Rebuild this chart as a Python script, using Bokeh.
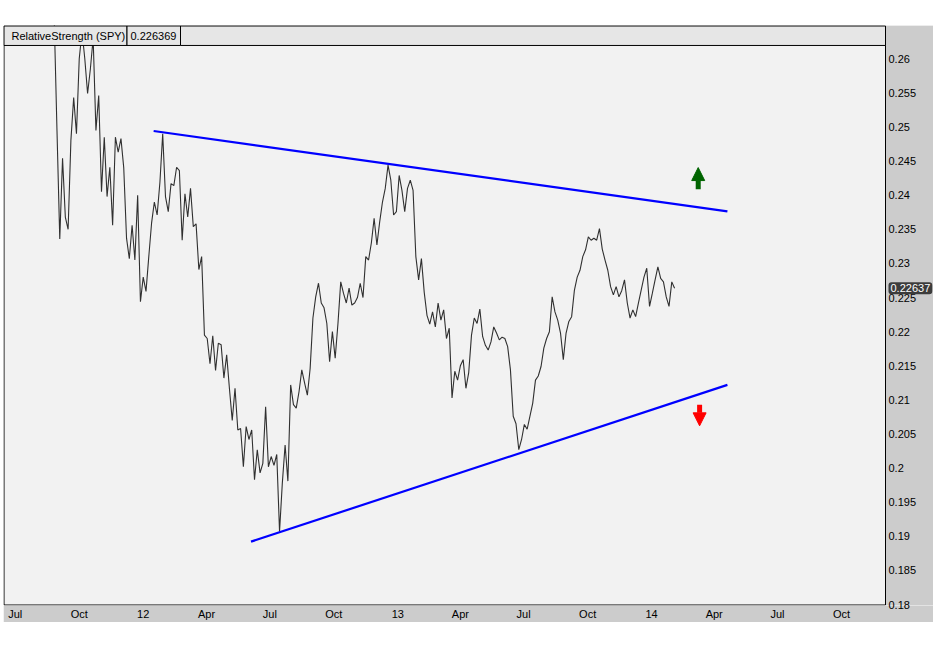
import pandas as pd
from bokeh.plotting import figure
from bokeh.models import (Range1d, FixedTicker, BoxAnnotation, Label, Arrow,
                          NormalHead, Spacer)
from bokeh.layouts import column, row
from bokeh.core.properties import value
from bokeh.embed import file_html
from bokeh.resources import INLINE

# ---------------- data ----------------
series_name = "RelativeStrength (SPY)"
first_date = "2011-08-26"          # one observation every 4 calendar days
rs_values = [
    0.2660, 0.2495, 0.2336, 0.2454, 0.2368, 0.2350, 0.2480, 0.2543, 0.2490, 0.2600,
    0.2640, 0.2600, 0.2549, 0.2585, 0.2630, 0.2495, 0.2546, 0.2405, 0.2485, 0.2398,
    0.2441, 0.2356, 0.2485, 0.2463, 0.2483, 0.2440, 0.2337, 0.2307, 0.2356, 0.2305,
    0.2400, 0.2244, 0.2280, 0.2259, 0.2310, 0.2359, 0.2390, 0.2371, 0.2419, 0.2490,
    0.2398, 0.2376, 0.2417, 0.2414, 0.2441, 0.2436, 0.2334, 0.2402, 0.2368, 0.2410,
    0.2354, 0.2358, 0.2291, 0.2310, 0.2195, 0.2190, 0.2153, 0.2194, 0.2143, 0.2183,
    0.2181, 0.2132, 0.2166, 0.2116, 0.2070, 0.2117, 0.2056, 0.2058, 0.2002, 0.2061,
    0.2042, 0.2056, 0.1983, 0.2027, 0.1993, 0.2007, 0.2090, 0.2002, 0.2017, 0.2004,
    0.2020, 0.1907, 0.1978, 0.2034, 0.1981, 0.2122, 0.2093, 0.2088, 0.2112, 0.2144,
    0.2125, 0.2107, 0.2146, 0.2220, 0.2251, 0.2271, 0.2242, 0.2235, 0.2212, 0.2156,
    0.2200, 0.2161, 0.2212, 0.2273, 0.2256, 0.2242, 0.2264, 0.2239, 0.2242, 0.2250,
    0.2271, 0.2250, 0.2310, 0.2305, 0.2330, 0.2366, 0.2327, 0.2361, 0.2390, 0.2410,
    0.2444, 0.2422, 0.2371, 0.2376, 0.2429, 0.2407, 0.2376, 0.2410, 0.2422, 0.2407,
    0.2310, 0.2276, 0.2307, 0.2258, 0.2224, 0.2211, 0.2229, 0.2207, 0.2242, 0.2217,
    0.2232, 0.2190, 0.2205, 0.2103, 0.2142, 0.2129, 0.2150, 0.2159, 0.2117, 0.2140,
    0.2195, 0.2220, 0.2212, 0.2233, 0.2193, 0.2180, 0.2173, 0.2185, 0.2207, 0.2198,
    0.2188, 0.2192, 0.2190, 0.2178, 0.2144, 0.2076, 0.2065, 0.2027, 0.2042, 0.2064,
    0.2057, 0.2076, 0.2095, 0.2129, 0.2135, 0.2149, 0.2176, 0.2190, 0.2200, 0.2251,
    0.2229, 0.2217, 0.2198, 0.2159, 0.2198, 0.2215, 0.2222, 0.2261, 0.2280, 0.2290,
    0.2310, 0.2320, 0.2339, 0.2334, 0.2337, 0.2334, 0.2351, 0.2321, 0.2305, 0.2290,
    0.2266, 0.2254, 0.2266, 0.2251, 0.2260, 0.2276, 0.2242, 0.2220, 0.2232, 0.2222,
    0.2242, 0.2261, 0.2280, 0.2293, 0.2237, 0.2256, 0.2276, 0.2295, 0.2278, 0.2273,
    0.2251, 0.2237, 0.2273, 0.226369,
]

upper_trend_dates = ["2012-01-16", "2014-04-20"]
upper_trend_values = [0.24941, 0.23763]
lower_trend_dates = ["2012-06-04", "2014-04-20"]
lower_trend_values = [0.18923, 0.21220]

up_arrow_date = "2014-03-09"
up_arrow_values = [0.24088, 0.24405]
down_arrow_date = "2014-03-11"
down_arrow_values = [0.20928, 0.20620]

y_ticks = [0.18, 0.185, 0.19, 0.195, 0.2, 0.205, 0.21, 0.215, 0.22, 0.225,
           0.23, 0.235, 0.24, 0.245, 0.25, 0.255, 0.26]
y_tick_labels = ["0.18", "0.185", "0.19", "0.195", "0.2", "0.205", "0.21", "0.215",
                 "0.22", "0.225", "0.23", "0.235", "0.24", "0.245", "0.25", "0.255", "0.26"]
x_tick_dates = ["2011-07-01", "2011-10-01", "2012-01-01", "2012-04-01", "2012-07-01",
                "2012-10-01", "2013-01-01", "2013-04-01", "2013-07-01", "2013-10-01",
                "2014-01-01", "2014-04-01", "2014-07-01", "2014-10-01"]
x_tick_labels = ["Jul", "Oct", "12", "Apr", "Jul", "Oct", "13", "Apr", "Jul", "Oct",
                 "14", "Apr", "Jul", "Oct"]

# ---------------- helpers ----------------
def ms(d):
    return int(pd.Timestamp(d).value // 10**6)

dates = pd.date_range(first_date, periods=len(rs_values), freq="4D")
last_value = rs_values[-1]

# frame spans the price area plus the right-hand scale strip
FRAME_L, FRAME_R, FRAME_T, FRAME_B = 3, 933, 25, 606
PLOT_R = 885                      # right edge of the price area
x_start = ms(pd.Timestamp("2012-01-01") - pd.Timedelta(days=200.9))
x_end = ms(pd.Timestamp("2012-01-01") + pd.Timedelta(days=1136.3))
y_start, y_end = 0.179868, 0.264873

def px_x(px):
    return x_start + (px - FRAME_L) / (FRAME_R - FRAME_L) * (x_end - x_start)

def px_y(py):
    return y_end - (py - FRAME_T) / (FRAME_B - FRAME_T) * (y_end - y_start)

FONT = "Liberation Sans"

p = figure(width=FRAME_R - FRAME_L, height=597, x_axis_type="datetime",
           y_axis_location=None,
           x_range=Range1d(x_start, x_end), y_range=Range1d(y_start, y_end),
           output_backend="svg", toolbar_location=None,
           min_border_left=0, min_border_right=0, min_border_top=0, min_border_bottom=16)
p.background_fill_color = "#f2f2f2"
p.border_fill_color = "#cccccc"
p.outline_line_color = None
p.grid.visible = False

ax = p.xaxis[0]
ax.major_tick_line_color = None
ax.minor_tick_line_color = None
ax.major_tick_out = 0
ax.major_tick_in = 0
ax.minor_tick_out = 0
ax.minor_tick_in = 0
ax.axis_line_color = None
ax.major_label_text_font = FONT
ax.major_label_text_font_size = "11px"
ax.major_label_text_color = "black"
x_tick_ms = [ms(d) for d in x_tick_dates]
ax.ticker = FixedTicker(ticks=x_tick_ms)
ax.major_label_overrides = dict(zip(x_tick_ms, x_tick_labels))
ax.major_label_standoff = 2

# main series
p.line(dates, rs_values, line_color="#303030", line_width=1.1)

# trend lines
p.line([pd.Timestamp(d) for d in upper_trend_dates], upper_trend_values,
       line_color="#0000ff", line_width=2.2)
p.line([pd.Timestamp(d) for d in lower_trend_dates], lower_trend_values,
       line_color="#0000ff", line_width=2.2)

# arrows
p.add_layout(Arrow(x_start=ms(up_arrow_date), y_start=up_arrow_values[0],
                   x_end=ms(up_arrow_date), y_end=up_arrow_values[1],
                   line_color="#006400", line_width=5,
                   end=NormalHead(size=13, fill_color="#006400", line_color="#006400",
                                  line_width=1)))
p.add_layout(Arrow(x_start=ms(down_arrow_date), y_start=down_arrow_values[0],
                   x_end=ms(down_arrow_date), y_end=down_arrow_values[1],
                   line_color="#ff0000", line_width=5,
                   end=NormalHead(size=13, fill_color="#ff0000", line_color="#ff0000",
                                  line_width=1)))

# right-hand scale strip
p.add_layout(BoxAnnotation(left=px_x(PLOT_R + 0.5), right=x_end, top=y_end, bottom=y_start,
                           fill_color="#cccccc", fill_alpha=1, line_alpha=0))
# price-area outline
p.add_layout(BoxAnnotation(left=px_x(FRAME_L + 0.5), right=px_x(PLOT_R), top=px_y(FRAME_T + 0.5),
                           bottom=px_y(FRAME_B - 0.5), fill_alpha=0,
                           line_color="black", line_alpha=1, line_width=1))
# header strip
hdr_bottom = px_y(45)
for left, right in [(px_x(FRAME_L + 0.5), px_x(126.5)), (px_x(126.5), px_x(180)),
                    (px_x(180), px_x(PLOT_R))]:
    p.add_layout(BoxAnnotation(left=left, right=right, top=px_y(FRAME_T + 0.5), bottom=hdr_bottom,
                               fill_color="#e6e6e6", fill_alpha=1,
                               line_color="black", line_alpha=1, line_width=1))
p.add_layout(Label(x=px_x(11), y=px_y(35.5), text=series_name, text_font=FONT,
                   text_font_size="11px", text_baseline="middle", text_color="black"))
p.add_layout(Label(x=px_x(130), y=px_y(35.5), text=f"{last_value:.6f}", text_font=FONT,
                   text_font_size="11px", text_baseline="middle", text_color="black"))

# value scale labels (on the data scale)
p.text(x=[px_x(PLOT_R + 3)] * len(y_ticks), y=y_ticks, text=y_tick_labels,
       text_font=value(FONT), text_font_size="11px", text_color="black",
       text_align="left", text_baseline="middle", level="overlay")

# last value tag
p.add_layout(Label(x=px_x(PLOT_R + 3), y=last_value, text=f"{last_value:.5f}",
                   text_font=FONT, text_font_size="11px", text_baseline="middle",
                   text_color="white", background_fill_color="#3c3c3c",
                   background_fill_alpha=1, padding=2, border_radius=3, level="overlay"))

layout = row(Spacer(width=FRAME_L, height=622), column(Spacer(width=FRAME_R - FRAME_L, height=FRAME_T), p))
open("out.html", "w").write(file_html(layout, INLINE))
